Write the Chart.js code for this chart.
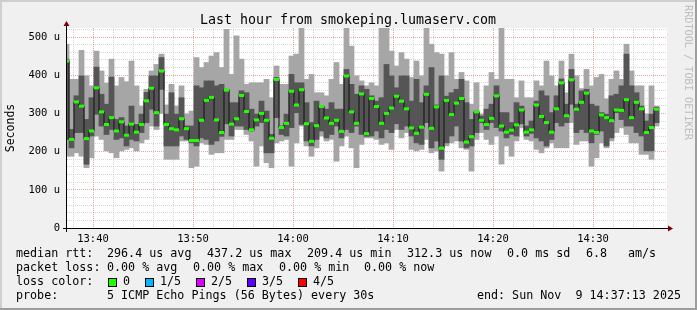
<!DOCTYPE html>
<html>
<head>
<meta charset="utf-8">
<script src="https://cdn.jsdelivr.net/npm/chart.js@4.4.1/dist/chart.umd.min.js"></script>
<style>
  html, body { margin: 0; padding: 0; background: #f0f0f0; }
  canvas { display: block; }
</style>
</head>
<body>
<canvas id="smokeChart" width="697" height="310"></canvas>
<script>
// SMOKEPING ////////////////////////////////////////////////
// Ultima hora de latencia: humo (5 pings) + mediana

// Minuto (despues de las 13:00) del centro de la primera columna, paso de 30 s
const primerMinuto = 37.35;
const pasoMinutos = 0.5;

// Valores en microsegundos, una columna cada 30 s
const humoMax = [
  481, 389, 389, 465, 398, 372, 463, 411, 379, 442,
  372, 394, 383, 437, 372, 319, 363, 411, 428, 455,
  322, 376, 319, 372, 298, 306, 446, 420, 433, 450,
  459, 420, 520, 402, 503, 442, 376, 380, 380, 380,
  389, 341, 424, 376, 376, 450, 455, 524, 389, 402,
  354, 354, 346, 389, 433, 376, 524, 476, 398, 385,
  372, 380, 372, 524, 524, 463, 424, 459, 442, 394,
  437, 398, 524, 481, 459, 455, 398, 459, 389, 407,
  385, 324, 380, 298, 372, 407, 389, 524, 389, 389,
  341, 385, 341, 341, 385, 372, 437, 398, 372, 437,
  354, 455, 398, 365, 415, 372, 394, 402, 338, 389,
  411, 389, 481, 411, 372, 372, 298, 372, 319
];
const humoAlto = [
  442, 258, 346, 398, 284, 341, 421, 350, 324, 395,
  284, 289, 267, 319, 271, 298, 355, 398, 398, 446,
  298, 354, 298, 341, 267, 267, 372, 367, 385, 385,
  372, 376, 363, 328, 328, 359, 354, 311, 298, 332,
  306, 245, 394, 267, 298, 402, 380, 380, 328, 276,
  332, 319, 311, 328, 311, 311, 415, 376, 350, 372,
  363, 346, 332, 341, 428, 398, 367, 398, 398, 332,
  389, 328, 372, 420, 322, 398, 345, 354, 363, 389,
  328, 284, 306, 293, 311, 324, 372, 302, 302, 276,
  328, 319, 267, 280, 332, 359, 346, 302, 346, 390,
  324, 415, 324, 359, 363, 324, 319, 302, 298, 346,
  350, 372, 455, 372, 354, 319, 280, 298, 316
];
const mediana = [
  437, 232, 330, 319, 234, 254, 367, 304, 271, 289,
  254, 278, 243, 272, 251, 271, 333, 366, 302, 411,
  271, 260, 257, 286, 260, 229, 229, 282, 334, 342,
  283, 250, 361, 272, 286, 347, 305, 257, 283, 300,
  282, 235, 389, 263, 274, 358, 322, 362, 273, 227,
  268, 318, 288, 274, 282, 253, 398, 304, 274, 351,
  247, 339, 318, 274, 300, 314, 345, 332, 312, 262,
  248, 264, 350, 261, 317, 209, 334, 297, 327, 339,
  225, 239, 304, 282, 271, 287, 346, 267, 251, 256,
  270, 309, 251, 257, 322, 292, 276, 251, 312, 380,
  294, 388, 311, 329, 353, 254, 250, 296, 289, 281,
  309, 308, 336, 289, 329, 312, 250, 263, 311
];
const humoBajo = [
  232, 210, 250, 250, 167, 241, 298, 267, 245, 258,
  232, 236, 215, 232, 228, 250, 276, 311, 267, 363,
  215, 215, 215, 241, 232, 223, 215, 236, 232, 219,
  228, 240, 273, 241, 267, 267, 258, 254, 267, 276,
  197, 197, 289, 245, 241, 263, 302, 271, 228, 215,
  232, 254, 236, 245, 267, 236, 258, 250, 267, 245,
  240, 241, 254, 236, 258, 250, 273, 258, 267, 241,
  223, 219, 276, 210, 228, 180, 223, 241, 267, 228,
  210, 215, 250, 276, 258, 276, 263, 254, 236, 245,
  241, 273, 241, 248, 236, 228, 215, 232, 276, 267,
  276, 324, 250, 258, 250, 223, 245, 254, 215, 236,
  302, 284, 267, 267, 250, 241, 202, 202, 276
];
const humoMin = [
  188, 188, 197, 188, 158, 184, 241, 232, 202, 197,
  184, 202, 206, 210, 202, 223, 232, 267, 258, 300,
  180, 180, 180, 228, 228, 158, 162, 223, 219, 193,
  197, 197, 232, 232, 258, 258, 245, 228, 162, 215,
  171, 158, 223, 228, 232, 162, 223, 267, 215, 188,
  210, 241, 228, 232, 175, 215, 241, 210, 158, 219,
  236, 236, 232, 219, 223, 206, 258, 236, 250, 206,
  202, 206, 232, 197, 202, 149, 215, 223, 228, 210,
  206, 149, 232, 250, 232, 219, 241, 167, 215, 188,
  228, 263, 232, 228, 206, 197, 210, 223, 210, 210,
  210, 276, 219, 228, 228, 162, 184, 223, 210, 228,
  250, 263, 245, 223, 223, 193, 193, 180, 267
];

// Etiquetas de los ejes
const minutosEtiqueta = [40, 50, 60, 70, 80, 90];
const textosX = ['13:40', '13:50', '14:00', '14:10', '14:20', '14:30'];
const valoresY = [0, 100, 200, 300, 400, 500];
const textosY = ['0', '100 u', '200 u', '300 u', '400 u', '500 u'];

// Colores de perdida
const textosPerdida = ['0', '1/5', '2/5', '3/5', '4/5'];
const coloresPerdida = ['#20ff00', '#00b8ff', '#dd00ff', '#5e00ff', '#ff0000'];

const fuente = '"DejaVu Sans Mono", "Liberation Mono", monospace';

// Armamos los puntos de cada serie
const tiempos = mediana.map((v, i) => primerMinuto + i * pasoMinutos);
const rango = (bajo, alto) => tiempos.map((t, i) => ({ x: t, y: [bajo[i], alto[i]] }));
const puntosMediana = tiempos.map((t, i) => ({ x: t, y: mediana[i] }));

// Plugin: fondo, marco, ejes con flecha y textos de rrdtool
const marcoRrd = {
  id: 'marcoRrd',
  beforeDraw(chart) {
    const { ctx, width, height, chartArea: a } = chart;
    ctx.save();
    ctx.fillStyle = '#f0f0f0';
    ctx.fillRect(0, 0, width, height);
    ctx.fillStyle = '#cfcfcf';
    ctx.fillRect(0, 0, width, 2);
    ctx.fillRect(0, 0, 2, height);
    ctx.fillStyle = '#9e9e9e';
    ctx.fillRect(0, height - 2, width, 2);
    ctx.fillRect(width - 2, 0, 2, height);
    ctx.fillStyle = '#ffffff';
    ctx.fillRect(a.left, a.top, a.right - a.left, a.bottom - a.top);
    ctx.restore();
  },
  afterDraw(chart) {
    const { ctx, width, chartArea: a } = chart;
    ctx.save();

    // ejes
    ctx.strokeStyle = '#000000';
    ctx.lineWidth = 1;
    ctx.beginPath();
    ctx.moveTo(a.left - 4, a.bottom + 0.5);
    ctx.lineTo(a.right + 3, a.bottom + 0.5);
    ctx.moveTo(a.left - 0.5, a.bottom + 4);
    ctx.lineTo(a.left - 0.5, a.top - 3);
    ctx.stroke();

    // flechas
    ctx.fillStyle = '#7f0000';
    ctx.beginPath();
    ctx.moveTo(a.right + 1, a.bottom - 2.5);
    ctx.lineTo(a.right + 6, a.bottom + 0.5);
    ctx.lineTo(a.right + 1, a.bottom + 3.5);
    ctx.closePath();
    ctx.fill();
    ctx.beginPath();
    ctx.moveTo(a.left - 3.5, a.top - 2);
    ctx.lineTo(a.left - 0.5, a.top - 7);
    ctx.lineTo(a.left + 2.5, a.top - 2);
    ctx.closePath();
    ctx.fill();

    // titulo
    ctx.fillStyle = '#000000';
    ctx.textBaseline = 'alphabetic';
    ctx.textAlign = 'center';
    ctx.font = '13.3px ' + fuente;
    ctx.fillText('Last hour from smokeping.lumaserv.com', 348, 24);

    // titulo vertical
    ctx.font = '11.5px ' + fuente;
    ctx.save();
    ctx.translate(11, (a.top + a.bottom) / 2);
    ctx.rotate(-Math.PI / 2);
    ctx.textBaseline = 'middle';
    ctx.fillText('Seconds', 0, 0);
    ctx.restore();

    // marca de agua
    ctx.save();
    ctx.translate(width - 4, 5);
    ctx.rotate(Math.PI / 2);
    ctx.textAlign = 'left';
    ctx.textBaseline = 'top';
    ctx.fillStyle = '#bdbdbd';
    ctx.font = '10.2px ' + fuente;
    ctx.fillText('RRDTOOL / TOBI OETIKER', 0, 0);
    ctx.restore();

    // leyenda
    ctx.textAlign = 'left';
    ctx.textBaseline = 'middle';
    ctx.font = '11.7px ' + fuente;
    const fila1 = [[16, 'median rtt:'], [107, '296.4 us avg'], [207, '437.2 us max'],
      [307, '209.4 us min'], [407, '312.3 us now'], [507, '0.0 ms sd'], [586, '6.8'], [628, 'am/s']];
    fila1.forEach(([x, t]) => ctx.fillText(t, x, 254));
    const fila2 = [[16, 'packet loss:'], [107, '0.00 % avg'], [193, '0.00 % max'],
      [279, '0.00 % min'], [364, '0.00 % now']];
    fila2.forEach(([x, t]) => ctx.fillText(t, x, 268));
    ctx.fillText('loss color:', 16, 282);
    const cajasX = [108, 145, 196, 247, 298];
    textosPerdida.forEach((t, i) => {
      ctx.fillStyle = coloresPerdida[i];
      ctx.fillRect(cajasX[i] + 0.5, 278.5, 8, 8);
      ctx.strokeStyle = '#000000';
      ctx.strokeRect(cajasX[i] + 0.5, 278.5, 8, 8);
      ctx.fillStyle = '#000000';
      ctx.fillText(t, cajasX[i] + 15, 282);
    });
    ctx.fillText('probe:', 16, 296);
    ctx.fillText('5 ICMP Echo Pings (56 Bytes) every 30s', 107, 296);
    ctx.textAlign = 'right';
    ctx.fillText('end: Sun Nov  9 14:37:13 2025', 681, 296);

    ctx.restore();
  }
};

const menor = 'rgba(140,140,140,0.35)';
const mayor = 'rgba(200,60,60,0.45)';

const smokeConfig = {
  type: 'bar',
  data: {
    datasets: [
      {
        label: 'humo exterior',
        data: rango(humoMin, humoMax),
        backgroundColor: '#a6a6a6',
        grouped: false,
        barPercentage: 1,
        categoryPercentage: 1,
        borderWidth: 0,
        inflateAmount: 0.4,
        order: 4
      }, {
        label: 'humo interior',
        data: rango(humoBajo, humoAlto),
        backgroundColor: '#555555',
        grouped: false,
        barPercentage: 1,
        categoryPercentage: 1,
        borderWidth: 0,
        inflateAmount: 0.4,
        order: 3
      }, {
        type: 'line',
        label: 'linea mediana',
        data: puntosMediana,
        stepped: 'middle',
        borderColor: '#111111',
        borderWidth: 1,
        pointRadius: 0,
        order: 2
      }, {
        type: 'line',
        label: 'mediana',
        data: puntosMediana,
        showLine: false,
        pointStyle: 'line',
        pointRadius: 2.5,
        pointBorderWidth: 3,
        pointBorderColor: '#20ff00',
        pointBackgroundColor: '#20ff00',
        order: 1
      }
    ]
  },
  options: {
    responsive: false,
    animation: false,
    events: [],
    layout: { padding: { top: 28, right: 30, left: 0, bottom: 0 } },
    plugins: {
      legend: { display: false },
      tooltip: { enabled: false },
      title: { display: false }
    },
    scales: {
      x: {
        type: 'linear',
        min: 37.4,
        max: 97.4,
        offset: false,
        z: 1,
        grid: {
          offset: false,
          drawTicks: false,
          color: (c) => (c.tick && c.tick.value % 10 === 0) ? mayor : menor
        },
        border: { display: false, dash: [1, 1] },
        ticks: {
          autoSkip: false,
          maxRotation: 0,
          padding: 5,
          color: '#000000',
          font: { family: fuente, size: 10.5 },
          callback: (v) => {
            const i = minutosEtiqueta.indexOf(v);
            return i >= 0 ? textosX[i] : '';
          }
        },
        afterBuildTicks: (escala) => {
          const lista = [];
          for (let m = 38; m <= 96; m += 2) lista.push({ value: m });
          escala.ticks = lista;
        },
        afterFit: (escala) => { escala.height = 82; }
      },
      y: {
        type: 'linear',
        min: 0,
        max: 523.6,
        z: 1,
        grid: {
          drawTicks: false,
          color: (c) => (c.tick && c.tick.value % 100 === 0) ? mayor : menor
        },
        border: { display: false, dash: [1, 1] },
        ticks: {
          autoSkip: false,
          padding: 7,
          color: '#000000',
          font: { family: fuente, size: 10.5 },
          callback: (v) => {
            const i = valoresY.indexOf(v);
            return i >= 0 ? textosY[i] : '';
          }
        },
        afterBuildTicks: (escala) => {
          const lista = [];
          for (let u = 0; u <= 520; u += 20) lista.push({ value: u });
          escala.ticks = lista;
        },
        afterFit: (escala) => { escala.width = 67; }
      }
    }
  },
  plugins: [marcoRrd]
};

const smokeChart = new Chart(document.querySelector('#smokeChart'), smokeConfig);
</script>
</body>
</html>
